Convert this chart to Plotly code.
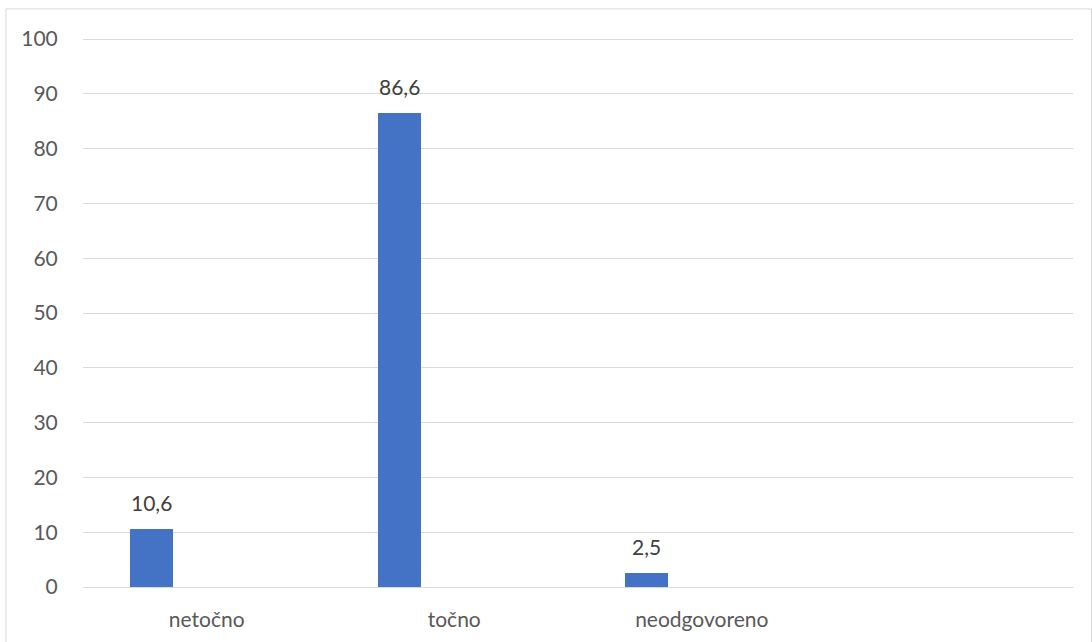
import plotly.graph_objects as go

categories = ["netočno", "točno", "neodgovoreno", " "]
values = [10.6, 86.6, 2.5, None]
value_labels = ["10,6", "86,6", "2,5", ""]
y_ticks = [0, 10, 20, 30, 40, 50, 60, 70, 80, 90, 100]

BAR_W = 0.174
BAR_OFF = -0.31

fig = go.Figure()
fig.add_trace(go.Bar(
    x=categories, y=values,
    width=BAR_W, offset=BAR_OFF,
    marker=dict(color="#4472C4", line=dict(width=0)),
    showlegend=False, hoverinfo="skip",
))

for i, (v, lab) in enumerate(zip(values, value_labels)):
    if v is None:
        continue
    fig.add_annotation(
        x=i + BAR_OFF + BAR_W / 2, y=v, text=lab, showarrow=False,
        yanchor="bottom", xanchor="center", yshift=12,
        font=dict(family="Lato", size=21, color="#404040"),
    )

fig.add_shape(type="rect", xref="paper", yref="paper",
              x0=-0.0778, x1=1.0187, y0=-0.12, y1=1.053,
              line=dict(color="#d9d9d9", width=1), fillcolor="rgba(0,0,0,0)",
              layer="below")

fig.update_layout(
    width=1092, height=642,
    margin=dict(l=83, r=19, t=38.4, b=54.5),
    paper_bgcolor="white", plot_bgcolor="white",
    font=dict(family="Lato", size=21, color="#595959"),
    bargap=0,
    xaxis=dict(
        type="category", categoryorder="array", categoryarray=categories,
        range=[-0.5, 3.5], showgrid=False, showline=False, zeroline=False,
        ticks="outside", ticklen=14, tickcolor="rgba(0,0,0,0)",
        tickfont=dict(family="Lato", size=21, color="#595959"),
    ),
    yaxis=dict(
        range=[0, 100.2], tickvals=y_ticks, showgrid=True,
        gridcolor="#d9d9d9", gridwidth=1.3, zeroline=True, zerolinecolor="#d9d9d9",
        zerolinewidth=1.3, showline=False,
        ticks="outside", ticklen=20, tickcolor="rgba(0,0,0,0)",
        tickfont=dict(family="Lato", size=21, color="#595959"),
    ),
)

fig.write_html("out.html", config={"displayModeBar": False},
               post_script="document.body.style.margin='0';")
